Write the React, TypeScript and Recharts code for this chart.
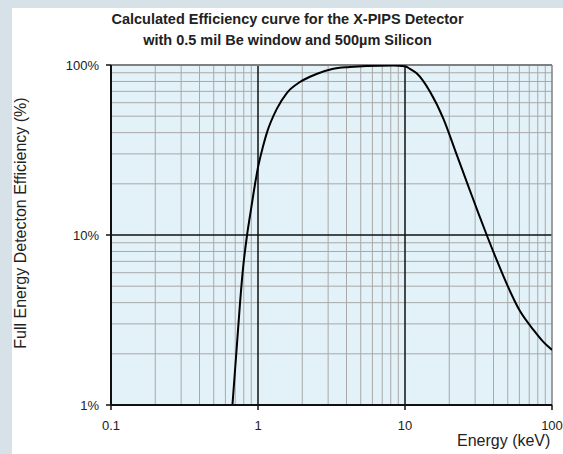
import { CartesianGrid, Line, LineChart, ReferenceLine, XAxis, YAxis } from 'recharts'

const energy = [
  0.67, 0.72, 0.755, 0.79, 0.84, 0.88, 0.94, 1.0, 1.08, 1.15, 1.34, 1.57, 1.93, 2.5, 3.2, 4.2, 5.5, 8.3, 10,
  10.8, 12, 14.8, 18.2, 22.5, 27.7, 31.5, 36.3, 43, 50, 60, 75, 87, 100,
]
const efficiency = [
  1.0, 2.3, 4.0, 6.3, 9.8, 12.8, 18.4, 25, 33, 40, 55, 68.4, 79.4, 88.5, 94.7, 97.3, 98.7, 99.3, 98.3,
  95, 89.4, 69.7, 48.6, 29.6, 18.2, 13.5, 9.8, 6.8, 5.0, 3.62, 2.76, 2.36, 2.11,
]

const xTicks = [0.1, 1, 10, 100]
const yTicks = [1, 10, 100]
const xMinor = [0.2, 0.3, 0.4, 0.5, 0.6, 0.7, 0.8, 0.9, 2, 3, 4, 5, 6, 7, 8, 9, 20, 30, 40, 50, 60, 70, 80, 90]
const yMinor = [2, 3, 4, 5, 6, 7, 8, 9, 20, 30, 40, 50, 60, 70, 80, 90]
const xMajor = [1, 10]
const yMajor = [10]

const data = energy.map((e, i) => ({ energy: e, eff: efficiency[i] }))

const font = '"Liberation Sans", Arial, sans-serif'

export default function App() {
  return (
    <div style={{ position: 'absolute', left: 0, top: 0, width: 563, height: 454, background: '#d6e2e8', fontFamily: font }}>
      <div style={{ position: 'absolute', left: 12, top: 8, width: 551, height: 446, background: '#ffffff' }} />
      <div style={{ position: 'absolute', left: 0, top: 0, width: 563, height: 454 }}>
        <LineChart width={563} height={454} data={data} margin={{ top: 65, right: 11, left: 41, bottom: 19 }}>
          <CartesianGrid fill="#e3f2f8" horizontal={false} vertical={false} />
          {xMinor.map((v) => (
            <ReferenceLine key={`xm${v}`} x={v} stroke="#a8a8a8" strokeWidth={1} />
          ))}
          {yMinor.map((v) => (
            <ReferenceLine key={`ym${v}`} y={v} stroke="#a8a8a8" strokeWidth={1} />
          ))}
          {xMajor.map((v) => (
            <ReferenceLine key={`xM${v}`} x={v} stroke="#111" strokeWidth={1.5} />
          ))}
          {yMajor.map((v) => (
            <ReferenceLine key={`yM${v}`} y={v} stroke="#111" strokeWidth={1.5} />
          ))}
          <ReferenceLine y={100} stroke="#808080" strokeWidth={2} />
          <ReferenceLine x={100} stroke="#808080" strokeWidth={1.5} />
          <XAxis
            dataKey="energy"
            type="number"
            scale="log"
            domain={[0.1, 100]}
            ticks={xTicks}
            allowDataOverflow
            height={30}
            tickSize={5}
            tickMargin={11}
            axisLine={{ stroke: '#111', strokeWidth: 2 }}
            tickLine={{ stroke: '#111', strokeWidth: 1.5 }}
            tick={{ fontSize: 13, fill: '#222', fontFamily: font }}
            tickFormatter={(v) => `${v}`}
          />
          <YAxis
            type="number"
            scale="log"
            domain={[1, 100]}
            ticks={yTicks}
            allowDataOverflow
            width={70}
            tickSize={5}
            tickMargin={7}
            axisLine={{ stroke: '#111', strokeWidth: 2 }}
            tickLine={{ stroke: '#111', strokeWidth: 1.5 }}
            tick={{ fontSize: 13, fill: '#222', fontFamily: font }}
            tickFormatter={(v) => `${v}%`}
          />
          <Line
            type="monotone"
            dataKey="eff"
            stroke="#000"
            strokeWidth={2}
            dot={false}
            isAnimationActive={false}
          />
        </LineChart>
      </div>
      <div
        style={{
          position: 'absolute',
          left: 12,
          top: 9,
          width: 551,
          textAlign: 'center',
          fontWeight: 'bold',
          fontSize: 14.5,
          lineHeight: '21px',
          color: '#222',
        }}
      >
        Calculated Efficiency curve for the X-PIPS Detector
        <br />
        with 0.5 mil Be window and 500µm Silicon
      </div>
      <div style={{ position: 'absolute', left: 457, top: 432, fontSize: 16, color: '#222' }}>Energy (keV)</div>
      <div
        style={{
          position: 'absolute',
          left: 21,
          top: 223,
          transform: 'translate(-50%, -50%) rotate(-90deg)',
          whiteSpace: 'nowrap',
          fontSize: 16,
          color: '#222',
        }}
      >
        Full Energy Detecton Efficiency (%)
      </div>
    </div>
  )
}
